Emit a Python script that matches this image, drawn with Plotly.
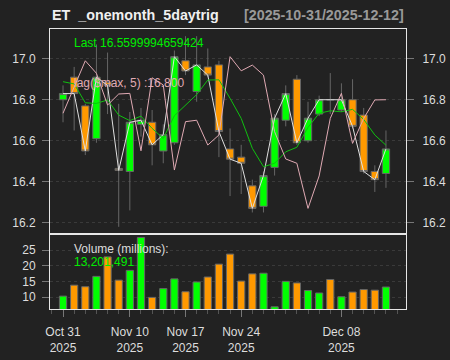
import plotly.graph_objects as go

dates = ["2025-10-31", "2025-11-03", "2025-11-04", "2025-11-05", "2025-11-06", "2025-11-07",
         "2025-11-10", "2025-11-11", "2025-11-12", "2025-11-13", "2025-11-14",
         "2025-11-17", "2025-11-18", "2025-11-19", "2025-11-20", "2025-11-21",
         "2025-11-24", "2025-11-25", "2025-11-26", "2025-11-28",
         "2025-12-01", "2025-12-02", "2025-12-03", "2025-12-04", "2025-12-05",
         "2025-12-08", "2025-12-09", "2025-12-10", "2025-12-11", "2025-12-12"]

open_ = [16.80, 16.91, 16.77, 16.61, 16.885, 16.465, 16.45, 16.68, 16.69, 16.55,
         16.59, 16.99, 16.84, 16.96, 16.97, 16.56, 16.52, 16.38, 16.28, 16.47,
         16.70, 16.90, 16.60, 16.73, 16.80, 16.75, 16.80, 16.725, 16.45, 16.44]
high = [16.87, 16.96, 16.78, 17.07, 17.03, 16.78, 16.74, 16.76, 16.75, 16.68,
        17.04, 17.11, 17.11, 17.05, 16.99, 16.66, 16.58, 16.41, 16.45, 16.73,
        16.87, 16.92, 16.79, 16.82, 16.93, 16.88, 16.90, 16.76, 16.48, 16.65]
low = [16.69, 16.65, 16.53, 16.59, 16.73, 16.18, 16.26, 16.62, 16.48, 16.49,
       16.58, 16.92, 16.79, 16.91, 16.52, 16.33, 16.34, 16.25, 16.25, 16.43,
       16.67, 16.58, 16.59, 16.72, 16.73, 16.74, 16.66, 16.44, 16.35, 16.37]
close = [16.83, 16.83, 16.55, 16.91, 16.87, 16.455, 16.69, 16.70, 16.58, 16.63,
         17.01, 16.94, 16.97, 16.92, 16.645, 16.51, 16.49, 16.27, 16.43, 16.71,
         16.83, 16.59, 16.71, 16.80, 16.80, 16.80, 16.67, 16.45, 16.41, 16.5599994659424]

sma5 = [16.888, 16.877, 16.785, 16.782, 16.799, 16.725, 16.698, 16.72, 16.66, 16.611,
        16.722, 16.772, 16.825, 16.896, 16.897, 16.807, 16.709, 16.563, 16.473, 16.49,
        16.546, 16.568, 16.665, 16.734, 16.746, 16.741, 16.753, 16.704, 16.628, 16.578]

lag5 = [16.734, 16.86, 16.99, 16.929, 16.774, 16.828, 16.831, 16.551, 16.907, 16.872,
        16.457, 16.693, 16.70, 16.579, 16.628, 17.01, 16.941, 16.969, 16.92, 16.644,
        16.511, 16.49, 16.27, 16.428, 16.709, 16.831, 16.587, 16.709, 16.799, 16.800]

volume_m = [10.3, 13.8, 13.3, 16.6, 22.8, 15.4, 18.5, 29.0, 9.9, 12.7,
            15.8, 11.7, 14.8, 16.4, 20.5, 23.7, 15.1, 17.4, 17.6, 6.9,
            15.0, 14.5, 12.1, 11.3, 15.6, 10.1, 11.6, 12.4, 12.2, 13.201491]

label_dates = ["2025-10-31", "2025-11-10", "2025-11-17", "2025-11-24", "2025-12-08"]
label_text = ["Oct 31<br>2025", "Nov 10<br>2025", "Nov 17<br>2025", "Nov 24<br>2025", "Dec 08<br>2025"]
price_ticks = [16.2, 16.4, 16.6, 16.8, 17.0]
vol_ticks = [10, 15, 20, 25]

UP = "#00ff00"
DN = "#ff9900"
BORDER = "#666666"
FRAME = "#e6e6e6"
BG = "#222222"
FONT = "Liberation Sans, Arial, sans-serif"

x = list(range(len(dates)))
tickvals = [dates.index(d) for d in label_dates]
vol_colors = [UP if c > o else DN for o, c in zip(open_, close)]

fig = go.Figure()

fig.add_trace(go.Candlestick(
    x=x, open=open_, high=high, low=low, close=close,
    xaxis="x2", yaxis="y",
    increasing=dict(line=dict(color=BORDER, width=1), fillcolor=UP),
    decreasing=dict(line=dict(color=BORDER, width=1), fillcolor=DN),
    whiskerwidth=0, showlegend=False, hoverinfo="skip"))

fig.add_trace(go.Scatter(x=x, y=close, mode="lines", xaxis="x2", yaxis="y",
                         line=dict(color="#e0e0e0", width=1), showlegend=False))
fig.add_trace(go.Scatter(x=x, y=sma5, mode="lines", xaxis="x2", yaxis="y",
                         line=dict(color="#10c010", width=1), showlegend=False))
fig.add_trace(go.Scatter(x=x, y=lag5, mode="lines", xaxis="x2", yaxis="y",
                         line=dict(color="#e0aab4", width=1), showlegend=False))
fig.add_trace(go.Scatter(x=x, y=close, mode="lines", xaxis="x2", yaxis="y3",
                         line=dict(width=0), opacity=0, showlegend=False, hoverinfo="skip"))

fig.add_trace(go.Bar(x=x, y=volume_m, xaxis="x", yaxis="y2", width=0.65,
                     marker=dict(color=vol_colors, line=dict(color=BORDER, width=1)),
                     showlegend=False))

dv = 75 / 280
xr = [-1.17, 30.8]
tickfont = dict(family=FONT, size=12, color="#dddddd")

fig.update_layout(
    width=450, height=360,
    margin=dict(l=50, r=44, t=29, b=51, autoexpand=False),
    paper_bgcolor=BG, plot_bgcolor=BG,
    font=dict(family=FONT, size=12, color="#dddddd"),
    boxgap=0.2, boxgroupgap=0.18,
    showlegend=False,
    xaxis=dict(domain=[0, 1], anchor="y2", range=xr, automargin=False,
               tickmode="array", tickvals=tickvals, ticktext=label_text,
               ticks="outside", ticklen=7, tickcolor="#777777",
               minor=dict(ticks="outside", ticklen=4, tickcolor="#555555", tick0=0, dtick=1, showgrid=False),
               showgrid=False, zeroline=False, showline=True, mirror=True,
               linecolor=FRAME, linewidth=1, tickfont=tickfont, ticklabelstandoff=5,
               rangeslider=dict(visible=False)),
    xaxis2=dict(domain=[0, 1], anchor="y", range=xr, matches="x", automargin=False,
                showticklabels=False, ticks="", showgrid=False, zeroline=False,
                showline=True, mirror=True, linecolor=FRAME, linewidth=1,
                rangeslider=dict(visible=False)),
    yaxis=dict(domain=[dv, 1], anchor="x2", range=[16.145, 17.145], automargin=False,
               tickmode="array", tickvals=price_ticks,
               ticktext=[f"{v:.1f}" for v in price_ticks],
               ticks="outside", ticklen=7, tickcolor="#777777",
               showgrid=True, gridcolor="#3a3a3a", griddash="dot", gridwidth=1,
               zeroline=False, showline=True, mirror=True, linecolor=FRAME,
               linewidth=1, tickfont=tickfont, ticklabelstandoff=4),
    yaxis3=dict(overlaying="y", side="right", anchor="x2", range=[16.145, 17.145],
                automargin=False,
                tickmode="array", tickvals=price_ticks,
                ticktext=[f"{v:.1f}" for v in price_ticks],
                ticks="outside", ticklen=7, tickcolor="#777777",
                showgrid=False, zeroline=False, showline=False,
                tickfont=tickfont, ticklabelstandoff=6),
    yaxis2=dict(domain=[0, dv], anchor="x", range=[6.2, 30.1], automargin=False,
                tickmode="array", tickvals=vol_ticks,
                ticks="outside", ticklen=7, tickcolor="#777777",
                showgrid=True, gridcolor="#3a3a3a", griddash="dot", gridwidth=1,
                zeroline=False, showline=True, mirror=True, linecolor=FRAME,
                linewidth=1, tickfont=tickfont, ticklabelstandoff=4),
)

def note(text, xp, yp, color, size=12, anchor="left", bold=False):
    fig.add_annotation(text=f"<b>{text}</b>" if bold else text,
                       xref="paper", yref="paper", x=xp, y=yp,
                       xanchor=anchor, yanchor="middle", showarrow=False,
                       font=dict(family=FONT, size=size, color=color))

note("ET\u00a0\u00a0_onemonth_5daytrig", 0.0, 1 + 14 / 280, "#f0f0f0", size=14.3, bold=True)
note(f"[{dates[0]}/{dates[-1]}]", 1.0, 1 + 14 / 280, "#999999", size=14.3, anchor="right", bold=True)
note(f"Last {close[-1]}", 22 / 356, 1 - 14 / 280, "#00ee00")
note(f"lag($max, 5) :{lag5[-1]:.3f}", 22 / 356, 1 - 54 / 280, "#e0aab4")
note("Volume (millions):", 22 / 356, 60 / 280, "#dddddd")
note(f"{int(round(volume_m[-1] * 1e6)):,}", 22 / 356, 47 / 280, "#00ee00")

fig.write_html("out.html", config={"displayModeBar": False, "staticPlot": True},
               post_script="document.body.style.margin='0';document.body.style.background='#222222';")
